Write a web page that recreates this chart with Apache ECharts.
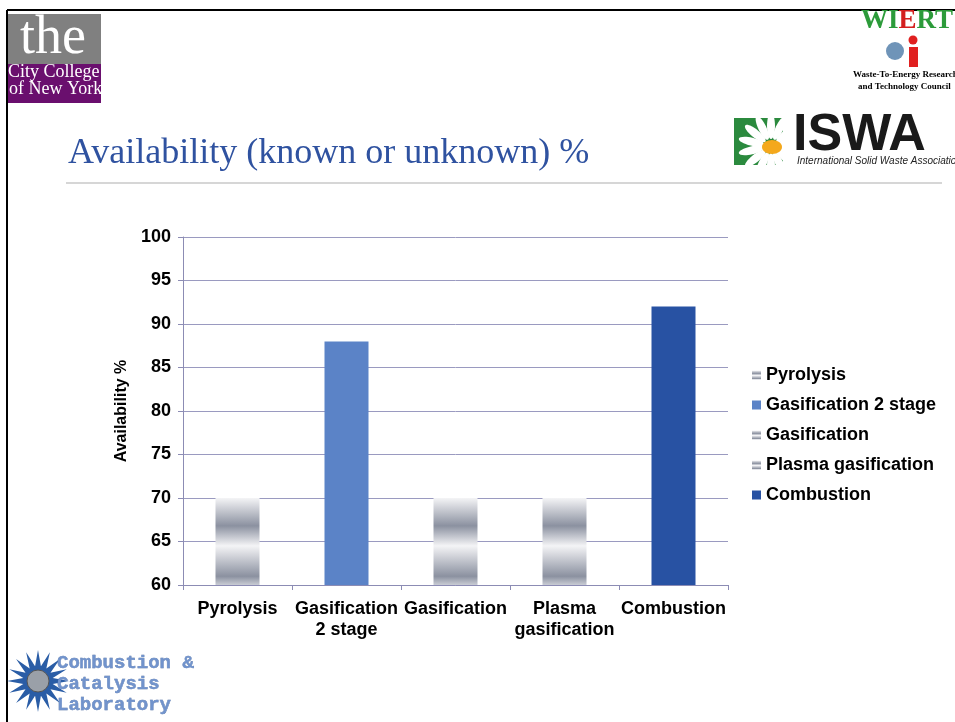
<!DOCTYPE html>
<html style="height: 100%">
 <head>
  <meta charset="utf-8" />
  <script src="https://cdn.jsdelivr.net/npm/echarts@6/dist/echarts.min.js"></script>
 </head>
 <body style="height: 100%; margin: 0; background: #fff">
  <div id="main" style="width:955px;height:722px;"></div>
  <script type="text/javascript">
   // chart data
   var categories = ['Pyrolysis', 'Gasification\n2 stage', 'Gasification', 'Plasma\ngasification', 'Combustion'];
   var seriesNames = ['Pyrolysis', 'Gasification 2 stage', 'Gasification', 'Plasma gasification', 'Combustion'];
   var availability = [70, 88, 70, 70, 92];
   var yTicks = { min: 60, max: 100, step: 5 };

   var grayBand = {
     type: 'linear', x: 0, y: 0, x2: 0, y2: 1,
     colorStops: [
       { offset: 0, color: '#f4f4f6' },
       { offset: 0.32, color: '#8b91a0' },
       { offset: 0.55, color: '#f4f4f6' },
       { offset: 0.9, color: '#8b91a0' },
       { offset: 1, color: '#c9ccd4' }
     ]
   };
   var barColors = [grayBand, '#5b83c7', grayBand, grayBand, '#2852a3'];

   var series = seriesNames.map(function (name, i) {
     var d = categories.map(function (c, j) { return j === i ? availability[i] : '-'; });
     return {
       name: name,
       type: 'bar',
       data: d,
       barWidth: 44,
       barGap: '-100%',
       itemStyle: { color: barColors[i] },
       animation: false
     };
   });

   var labelFont = { fontFamily: 'Liberation Sans', fontWeight: 'bold', fontSize: 18, color: '#000' };

   // star for the lab logo
   var starPts = [];
   for (var k = 0; k < 32; k++) {
     var r = k % 2 === 0 ? 31 : 15;
     var a = Math.PI * k / 16;
     starPts.push([38 + r * Math.cos(a), 681 + r * Math.sin(a)]);
   }
   // daisy petals for the ISWA logo
   var petals = [];
   for (var p = 0; p < 14; p++) {
     petals.push({
       type: 'ellipse', shape: { cx: 0, cy: -20, rx: 4, ry: 13 },
       x: 771, y: 146, rotation: Math.PI * p / 7,
       style: { fill: '#fff' }
     });
   }

   var chart = echarts.init(document.getElementById('main'));
   chart.setOption({
     backgroundColor: '#fff',
     animation: false,
     grid: { left: 183, right: 227, top: 237, bottom: 137 },
     legend: {
       orient: 'vertical',
       left: 752,
       top: 366,
       padding: 0,
       itemWidth: 9,
       itemHeight: 9,
       itemGap: 12,
       icon: 'rect',
       textStyle: labelFont,
       data: seriesNames
     },
     xAxis: {
       type: 'category',
       data: categories,
       axisLine: { lineStyle: { color: '#8c8cb4' } },
       axisTick: { show: true, length: 5, lineStyle: { color: '#8c8cb4' } },
       axisLabel: Object.assign({ margin: 14, lineHeight: 21, interval: 0 }, labelFont)
     },
     yAxis: {
       type: 'value',
       min: yTicks.min,
       max: yTicks.max,
       interval: yTicks.step,
       name: 'Availability %',
       nameLocation: 'middle',
       nameGap: 44,
       nameTextStyle: { fontFamily: 'Liberation Sans', fontWeight: 'bold', fontSize: 16, color: '#000' },
       axisLine: { show: true, lineStyle: { color: '#8c8cb4' } },
       axisTick: { show: true, length: 5, lineStyle: { color: '#8c8cb4' } },
       axisLabel: Object.assign({ margin: 12 }, labelFont),
       splitLine: { lineStyle: { color: '#9a9ac0' } }
     },
     series: series,
     graphic: [
       // CCNY logo
       { type: 'rect', shape: { x: 8, y: 14, width: 93, height: 50 }, style: { fill: '#808080' } },
       { type: 'rect', shape: { x: 8, y: 64, width: 93, height: 39 }, style: { fill: '#6a0f6e' } },
       { type: 'text', x: 20, y: 12, style: { text: 'the', font: '54px "Liberation Serif"', fill: '#fff' } },
       { type: 'text', x: 8, y: 63, style: { text: 'City College', font: '18px "Liberation Serif"', fill: '#fff' } },
       { type: 'text', x: 9, y: 80, style: { text: 'of New York', font: '18px "Liberation Serif"', fill: '#fff' } },
       // slide frame
       { type: 'line', shape: { x1: 7, y1: 10, x2: 955, y2: 10 }, style: { stroke: '#000', lineWidth: 2 } },
       { type: 'line', shape: { x1: 7, y1: 10, x2: 7, y2: 722 }, style: { stroke: '#000', lineWidth: 2 } },
       // ISWA logo (masks drawn before the title line)
       { type: 'rect', shape: { x: 734, y: 118, width: 49, height: 47 }, style: { fill: '#2b8a3e' } },
       { type: 'group', children: petals },
       { type: 'ellipse', shape: { cx: 772, cy: 147, rx: 10, ry: 7 }, style: { fill: '#f4a81c' } },
       { type: 'rect', shape: { x: 783, y: 105, width: 9, height: 73 }, style: { fill: '#fff' } },
       { type: 'rect', shape: { x: 720, y: 165, width: 65, height: 13 }, style: { fill: '#fff' } },
       { type: 'rect', shape: { x: 720, y: 100, width: 65, height: 18 }, style: { fill: '#fff' } },
       { type: 'rect', shape: { x: 720, y: 100, width: 14, height: 78 }, style: { fill: '#fff' } },
       { type: 'text', x: 793, y: 110, style: { text: 'ISWA', font: 'bold 52px "Liberation Sans"', fill: '#1a1a1a' } },
       { type: 'text', x: 797, y: 156, style: { text: 'International Solid Waste Association', font: 'italic 10px "Liberation Sans"', fill: '#222' } },
       // title
       { type: 'text', x: 68, y: 136, style: { text: 'Availability (known or unknown) %', font: '36px "Liberation Serif"', fill: '#2f52a0' } },
       { type: 'line', shape: { x1: 66, y1: 183, x2: 942, y2: 183 }, style: { stroke: '#c8c8c8', lineWidth: 1.5 } },
       // WIERT logo
       { type: 'text', x: 861, y: 8, style: {
           text: '{g|WI}{r|E}{g|RT}',
           rich: {
             g: { font: 'bold 27px "Liberation Serif"', fill: '#2c9b3a' },
             r: { font: 'bold 27px "Liberation Serif"', fill: '#d42020' }
           } } },
       { type: 'circle', shape: { cx: 895, cy: 51, r: 9 }, style: { fill: '#6f94b8' } },
       { type: 'circle', shape: { cx: 913, cy: 40, r: 4.5 }, style: { fill: '#e02020' } },
       { type: 'rect', shape: { x: 909, y: 47, width: 9, height: 20 }, style: { fill: '#e02020' } },
       { type: 'text', x: 853, y: 70, style: { text: 'Waste-To-Energy Research', font: 'bold 9px "Liberation Serif"', fill: '#000' } },
       { type: 'text', x: 858, y: 82, style: { text: 'and Technology Council', font: 'bold 9px "Liberation Serif"', fill: '#000' } },
       // Combustion & Catalysis Laboratory logo
       { type: 'polygon', shape: { points: starPts }, style: { fill: '#2a5da6' } },
       { type: 'circle', shape: { cx: 38, cy: 681, r: 11 }, style: { fill: '#9aa0a8', stroke: '#555', lineWidth: 1 } },
       { type: 'text', x: 57, y: 654, style: { text: 'Combustion &', font: 'bold 19px "Liberation Mono"', fill: '#7193cc', stroke: '#3d5f99', lineWidth: 0.4 } },
       { type: 'text', x: 57, y: 675, style: { text: 'Catalysis', font: 'bold 19px "Liberation Mono"', fill: '#7193cc', stroke: '#3d5f99', lineWidth: 0.4 } },
       { type: 'text', x: 57, y: 696, style: { text: 'Laboratory', font: 'bold 19px "Liberation Mono"', fill: '#7193cc', stroke: '#3d5f99', lineWidth: 0.4 } }
     ]
   });
  </script>
 </body>
</html>
